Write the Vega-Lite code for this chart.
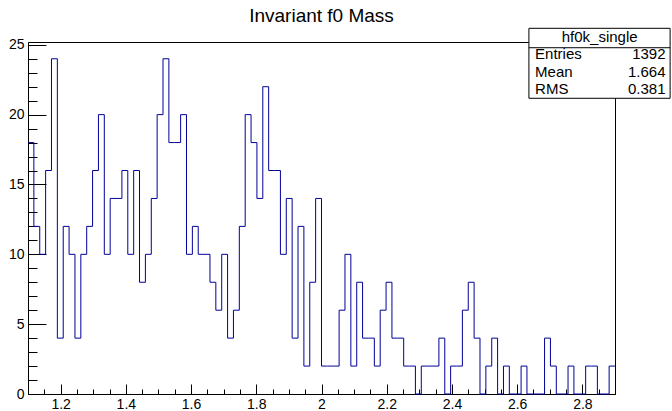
{
  "$schema": "https://vega.github.io/schema/vega-lite/v6.json",
  "width": 587,
  "height": 352,
  "autosize": {"type": "none"},
  "padding": {"left": 28, "top": 42, "right": 57, "bottom": 17},
  "background": "white",
  "config": {
    "view": {"stroke": "black", "strokeWidth": 1},
    "font": "Liberation Sans",
    "axis": {"domainColor": "black", "tickColor": "black", "labelColor": "black", "labelFont": "Liberation Sans", "labelFontSize": 14, "grid": false, "title": null, "labelOverlap": false, "labelFlush": false, "labelBound": false}
  },
  "title": {"text": "Invariant f0 Mass", "font": "Liberation Sans", "fontSize": 19, "fontWeight": "normal", "color": "black", "anchor": "middle", "frame": "group", "offset": 2},
  "resolve": {"axis": {"x": "independent", "y": "independent"}},
  "datasets": {
    "hist": [
      {"lo": 1.1, "count": 18}, {"lo": 1.118, "count": 12}, {"lo": 1.136, "count": 10}, {"lo": 1.154, "count": 16}, {"lo": 1.172, "count": 24},
      {"lo": 1.19, "count": 4}, {"lo": 1.208, "count": 12}, {"lo": 1.226, "count": 10}, {"lo": 1.244, "count": 4}, {"lo": 1.262, "count": 10},
      {"lo": 1.28, "count": 12}, {"lo": 1.298, "count": 16}, {"lo": 1.316, "count": 20}, {"lo": 1.334, "count": 10}, {"lo": 1.352, "count": 14},
      {"lo": 1.37, "count": 14}, {"lo": 1.388, "count": 16}, {"lo": 1.406, "count": 10}, {"lo": 1.424, "count": 16}, {"lo": 1.442, "count": 8},
      {"lo": 1.46, "count": 10}, {"lo": 1.478, "count": 14}, {"lo": 1.496, "count": 20}, {"lo": 1.514, "count": 24}, {"lo": 1.532, "count": 18},
      {"lo": 1.55, "count": 18}, {"lo": 1.568, "count": 20}, {"lo": 1.586, "count": 10}, {"lo": 1.604, "count": 12}, {"lo": 1.622, "count": 10},
      {"lo": 1.64, "count": 10}, {"lo": 1.658, "count": 8}, {"lo": 1.676, "count": 6}, {"lo": 1.694, "count": 10}, {"lo": 1.712, "count": 4},
      {"lo": 1.73, "count": 6}, {"lo": 1.748, "count": 12}, {"lo": 1.766, "count": 20}, {"lo": 1.784, "count": 18}, {"lo": 1.802, "count": 14},
      {"lo": 1.82, "count": 22}, {"lo": 1.838, "count": 16}, {"lo": 1.856, "count": 16}, {"lo": 1.874, "count": 10}, {"lo": 1.892, "count": 14},
      {"lo": 1.91, "count": 4}, {"lo": 1.928, "count": 12}, {"lo": 1.946, "count": 2}, {"lo": 1.964, "count": 8}, {"lo": 1.982, "count": 14},
      {"lo": 2.0, "count": 2}, {"lo": 2.018, "count": 2}, {"lo": 2.036, "count": 2}, {"lo": 2.054, "count": 6}, {"lo": 2.072, "count": 10},
      {"lo": 2.09, "count": 2}, {"lo": 2.108, "count": 8}, {"lo": 2.126, "count": 4}, {"lo": 2.144, "count": 4}, {"lo": 2.162, "count": 2},
      {"lo": 2.18, "count": 6}, {"lo": 2.198, "count": 8}, {"lo": 2.216, "count": 4}, {"lo": 2.234, "count": 4}, {"lo": 2.252, "count": 2},
      {"lo": 2.27, "count": 2}, {"lo": 2.288, "count": 0}, {"lo": 2.306, "count": 2}, {"lo": 2.324, "count": 2}, {"lo": 2.342, "count": 2},
      {"lo": 2.36, "count": 4}, {"lo": 2.378, "count": 0}, {"lo": 2.396, "count": 2}, {"lo": 2.414, "count": 2}, {"lo": 2.432, "count": 6},
      {"lo": 2.45, "count": 8}, {"lo": 2.468, "count": 4}, {"lo": 2.486, "count": 0}, {"lo": 2.504, "count": 2}, {"lo": 2.522, "count": 4},
      {"lo": 2.54, "count": 0}, {"lo": 2.558, "count": 2}, {"lo": 2.576, "count": 0}, {"lo": 2.594, "count": 0}, {"lo": 2.612, "count": 2},
      {"lo": 2.63, "count": 0}, {"lo": 2.648, "count": 0}, {"lo": 2.666, "count": 0}, {"lo": 2.684, "count": 4}, {"lo": 2.702, "count": 2},
      {"lo": 2.72, "count": 0}, {"lo": 2.738, "count": 0}, {"lo": 2.756, "count": 2}, {"lo": 2.774, "count": 0}, {"lo": 2.792, "count": 0},
      {"lo": 2.81, "count": 2}, {"lo": 2.828, "count": 2}, {"lo": 2.846, "count": 0}, {"lo": 2.864, "count": 0}, {"lo": 2.882, "count": 2},
      {"lo": 2.9, "count": 2}
    ]
  },
  "layer": [
    {
      "data": {"name": "hist"},
      "mark": {"type": "line", "interpolate": "step-after", "color": "#000099", "strokeWidth": 1},
      "encoding": {
        "x": {
          "field": "lo", "type": "quantitative",
          "scale": {"domain": [1.1, 2.9], "nice": false, "zero": false},
          "axis": {
            "orient": "bottom",
            "values": [1.2, 1.4, 1.6, 1.8, 2.0, 2.2, 2.4, 2.6, 2.8],
            "labelExpr": "format(datum.value, '~g')",
            "ticks": false,
            "labelPadding": 3
          }
        },
        "y": {
          "field": "count", "type": "quantitative",
          "scale": {"domain": [0, 25.2], "nice": false},
          "axis": {
            "orient": "left",
            "values": [0, 5, 10, 15, 20, 25],
            "ticks": false,
            "labelPadding": 4
          }
        }
      }
    },
    {
      "data": {"name": "hist"},
      "mark": {"type": "line", "interpolate": "step-after", "strokeOpacity": 0},
      "encoding": {
        "x": {
          "field": "lo", "type": "quantitative",
          "axis": {"orient": "top", "offset": -352, "domain": false, "labels": false, "tickSize": 10,
                   "values": [1.2, 1.4, 1.6, 1.8, 2.0, 2.2, 2.4, 2.6, 2.8]}
        },
        "y": {
          "field": "count", "type": "quantitative",
          "axis": {"orient": "right", "offset": -587, "domain": false, "labels": false, "tickSize": 18,
                   "values": [0, 5, 10, 15, 20, 25]}
        }
      }
    },
    {
      "data": {"name": "hist"},
      "mark": {"type": "line", "interpolate": "step-after", "strokeOpacity": 0},
      "encoding": {
        "x": {
          "field": "lo", "type": "quantitative",
          "axis": {"orient": "top", "offset": -352, "domain": false, "labels": false, "tickSize": 5,
                   "values": [1.1, 1.15, 1.25, 1.3, 1.35, 1.45, 1.5, 1.55, 1.65, 1.7, 1.75, 1.85, 1.9, 1.95, 2.05, 2.1, 2.15, 2.25, 2.3, 2.35, 2.45, 2.5, 2.55, 2.65, 2.7, 2.75, 2.85, 2.9]}
        },
        "y": {
          "field": "count", "type": "quantitative",
          "axis": {"orient": "right", "offset": -587, "domain": false, "labels": false, "tickSize": 9,
                   "values": [1, 2, 3, 4, 6, 7, 8, 9, 11, 12, 13, 14, 16, 17, 18, 19, 21, 22, 23, 24]}
        }
      }
    },
    {
      "data": {"values": [{"name": "hf0k_single"}]},
      "mark": {"type": "rect", "fill": "white", "stroke": "black", "strokeWidth": 1},
      "encoding": {
        "x": {"datum": 2.636, "type": "quantitative", "axis": null},
        "x2": {"datum": 3.069},
        "y": {"datum": 26.18, "type": "quantitative", "axis": null},
        "y2": {"datum": 21.17}
      }
    },
    {
      "data": {"values": [{"name": "hf0k_single"}]},
      "mark": {"type": "rule", "stroke": "black", "strokeWidth": 1},
      "encoding": {
        "x": {"datum": 2.636, "type": "quantitative", "axis": null},
        "x2": {"datum": 3.069},
        "y": {"datum": 24.79, "type": "quantitative", "axis": null}
      }
    },
    {
      "data": {"values": [{"name": "hf0k_single"}]},
      "mark": {"type": "text", "align": "center", "baseline": "middle", "fontSize": 15, "font": "Liberation Sans", "color": "black"},
      "encoding": {
        "x": {"datum": 2.853, "type": "quantitative", "axis": null},
        "y": {"datum": 25.55, "type": "quantitative", "axis": null},
        "text": {"field": "name"}
      }
    },
    {
      "data": {"values": [{"stat": "Entries", "value": "1392", "row": 24.31}, {"stat": "Mean", "value": "1.664", "row": 23.07}, {"stat": "RMS", "value": "0.381", "row": 21.8}]},
      "mark": {"type": "text", "align": "left", "baseline": "middle", "fontSize": 15, "font": "Liberation Sans", "color": "black"},
      "encoding": {
        "x": {"datum": 2.655, "type": "quantitative", "axis": null},
        "y": {"field": "row", "type": "quantitative", "axis": null},
        "text": {"field": "stat"}
      }
    },
    {
      "data": {"values": [{"stat": "Entries", "value": "1392", "row": 24.31}, {"stat": "Mean", "value": "1.664", "row": 23.07}, {"stat": "RMS", "value": "0.381", "row": 21.8}]},
      "mark": {"type": "text", "align": "right", "baseline": "middle", "fontSize": 15, "font": "Liberation Sans", "color": "black"},
      "encoding": {
        "x": {"datum": 3.055, "type": "quantitative", "axis": null},
        "y": {"field": "row", "type": "quantitative", "axis": null},
        "text": {"field": "value"}
      }
    }
  ]
}
